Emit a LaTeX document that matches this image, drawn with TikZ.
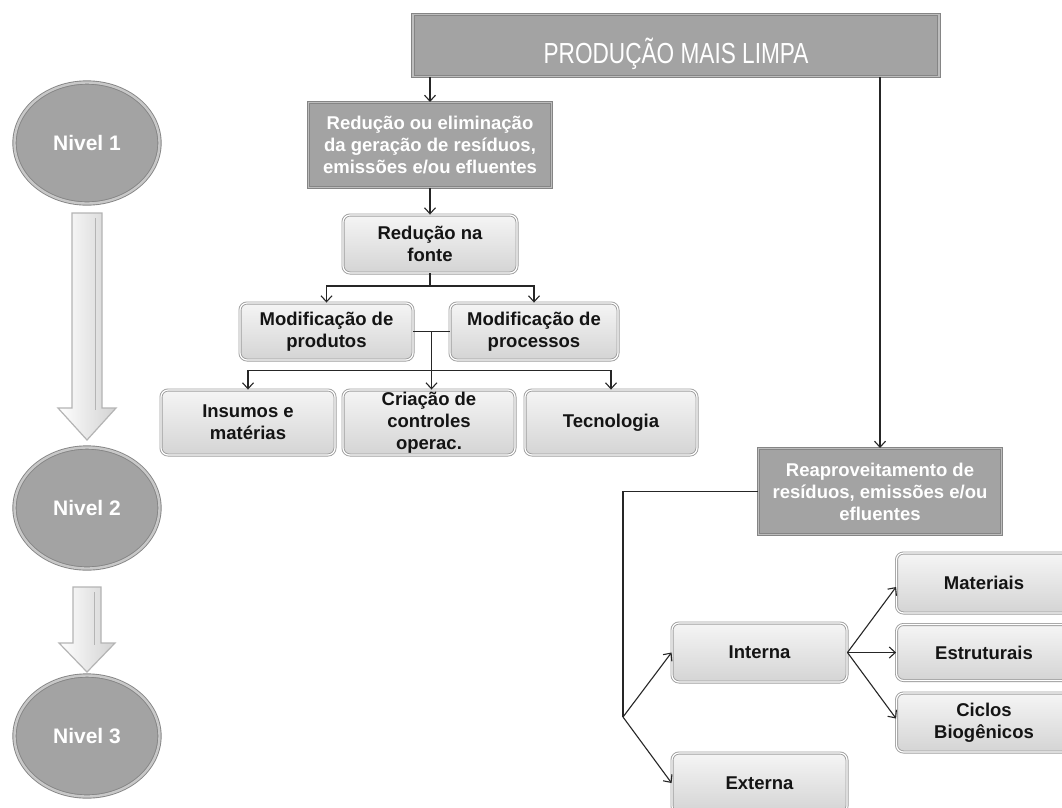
\documentclass[tikz,border=0pt]{standalone}
\usepackage{fontspec}
\setmainfont{Liberation Sans}
\usetikzlibrary{arrows.meta,shapes.geometric,calc}
\definecolor{boxgray}{HTML}{A3A3A3}
\definecolor{boxedge}{HTML}{858585}
\definecolor{boxhi}{HTML}{BDBDBD}
\definecolor{lighttop}{HTML}{F5F5F5}
\definecolor{lightbot}{HTML}{D4D4D4}
\definecolor{lightedge}{HTML}{9E9E9E}
\definecolor{linecol}{HTML}{262626}
\definecolor{textdark}{HTML}{141414}
\definecolor{ringcol}{HTML}{C8C8C8}
\definecolor{arrowedge}{HTML}{B4B4B4}
\definecolor{arrowmid}{HTML}{D2D2D2}
\begin{document}
\begin{tikzpicture}[x=1pt,y=-1pt,
  darkbox/.style={rectangle, fill=boxgray, draw=boxedge, line width=1pt,
    double=boxhi, double distance=1.6pt, text=white,
    font=\bfseries\fontsize{18.5}{22}\selectfont, align=center, inner sep=0pt},
  lightbox/.style={rectangle, rounded corners=7pt, top color=lighttop, bottom color=lightbot,
    draw=lightedge, line width=0.9pt, double=white, double distance=1.2pt,
    text=textdark, font=\bfseries\fontsize{18.5}{22}\selectfont, align=center, inner sep=0pt},
  nivel/.style={ellipse, fill=boxgray, draw=boxedge, line width=0.9pt, double=ringcol,
    double distance=2.4pt, minimum width=145pt, minimum height=121pt, text=white,
    font=\bfseries\fontsize{21}{24}\selectfont, inner sep=0pt},
  conn/.style={draw=linecol, line width=1.1pt},
  arr/.style={conn, -{Straight Barb[length=6pt,width=11pt,line width=1.1pt]}},
  blockarrow/.style={left color=white, right color=arrowmid, draw=arrowedge, line width=1.2pt, line join=miter}
]
\useasboundingbox (0,0) rectangle (1062,807);
\fill[white] (0,0) rectangle (1062,807);

% left level ellipses
\node[nivel] (n1) at (87,143) {Nivel 1};
\node[nivel] (n2) at (87,508) {Nivel 2};
\node[nivel] (n3) at (87,736) {Nivel 3};

% block arrows
\draw[blockarrow] (72,213) -- (102,213) -- (102,408) -- (116,408) -- (87,440) -- (58,408) -- (72,408) -- cycle;
\draw[line width=1pt, draw=arrowedge] (95,218) -- (95,410);
\draw[blockarrow] (73,587) -- (101,587) -- (101,643) -- (115,643) -- (87,672) -- (59,643) -- (73,643) -- cycle;
\draw[line width=1pt, draw=arrowedge] (94,592) -- (94,645);

% top box
\node[darkbox, minimum width=526pt, minimum height=62pt, font=\fontsize{29}{30}\selectfont,
  text height=35pt, text depth=0pt] (top) at (676,45.5) {\scalebox{0.78}[1]{PRODUÇÃO MAIS LIMPA}};

% left branch
\node[darkbox, minimum width=243pt, minimum height=85pt] (box2) at (430,145)
  {Redução ou eliminação\\da geração de resíduos,\\emissões e/ou efluentes};
\node[lightbox, minimum width=174pt, minimum height=58pt] (box3) at (430,244) {Redução na\\fonte};
\node[lightbox, minimum width=173pt, minimum height=57pt] (modprod) at (326.5,331.5) {Modificação de\\produtos};
\node[lightbox, minimum width=168pt, minimum height=57pt] (modproc) at (534,331.5) {Modificação de\\processos};
\node[lightbox, minimum width=174pt, minimum height=65pt] (insumos) at (248,422.5) {Insumos e\\matérias};
\node[lightbox, minimum width=172pt, minimum height=65pt] (criacao) at (429,422.5) {Criação de\\controles\\operac.};
\node[lightbox, minimum width=172pt, minimum height=65pt] (tecnologia) at (611,422.5) {Tecnologia};

% right branch
\node[darkbox, minimum width=243pt, minimum height=86pt] (reap) at (880,491.5)
  {Reaproveitamento de\\resíduos, emissões e/ou\\efluentes};
\node[lightbox, minimum width=175pt, minimum height=59pt] (interna) at (759.5,652.5) {Interna};
\node[lightbox, minimum width=175pt, minimum height=60pt] (externa) at (759.5,783) {Externa};
\node[lightbox, minimum width=175pt, minimum height=60pt] (materiais) at (984,583) {Materiais};
\node[lightbox, minimum width=175pt, minimum height=56pt] (estruturais) at (984,652.5) {Estruturais};
\node[lightbox, minimum width=175pt, minimum height=59pt] (ciclos) at (984,722.5) {Ciclos\\Biogênicos};

% connectors
\draw[arr] (top.south -| box2.north) -- (box2.north);
\draw[arr] (top.south -| reap.north) -- (reap.north);
\draw[arr] (box2.south) -- (box3.north);
\coordinate (j1) at (430,286);
\draw[conn] (box3.south) -- (j1);
\draw[arr] (j1) -| (modprod.north);
\draw[arr] (j1) -| (modproc.north);
\draw[conn] (modprod.east) -- (modproc.west);
\coordinate (j2) at ($(modprod.east)!0.5!(modproc.west)$);
\draw[arr] (j2) -- (j2 |- criacao.north);
\coordinate (j3) at ($(j2)+(0,39)$);
\draw[arr] (j3) -| (insumos.north);
\draw[arr] (j3) -| (tecnologia.north);

\coordinate (c1) at (623,491.5);
\coordinate (j5) at (623,717);
\draw[conn] (reap.west) -- (c1) -- (j5);
\draw[arr] (j5) -- (interna.west);
\draw[arr] (j5) -- (externa.west);
\draw[arr] (interna.east) -- ($(materiais.west)+(0,4)$);
\draw[arr] (interna.east) -- (estruturais.west);
\draw[arr] (interna.east) -- ($(ciclos.west)+(0,-4)$);
\end{tikzpicture}
\end{document}
